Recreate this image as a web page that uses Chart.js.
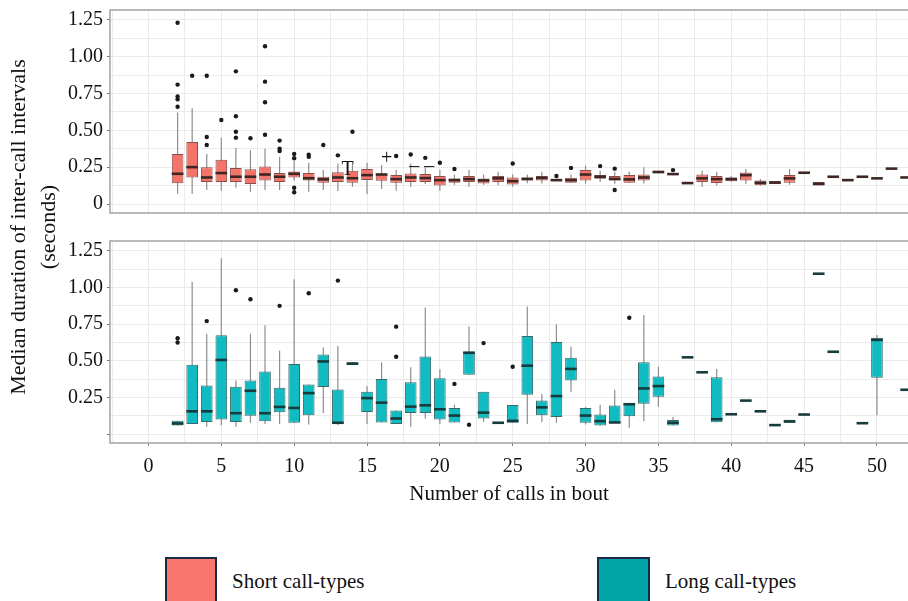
<!DOCTYPE html>
<html>
<head>
<meta charset="utf-8">
<script src="https://cdn.jsdelivr.net/npm/chart.js@4.4.1/dist/chart.umd.min.js"></script>
<style>
  body { margin: 0; width: 908px; height: 601px; overflow: hidden; background: #fff; position: relative; font-family: 'Liberation Serif', serif; color: #111; }
  canvas { position: absolute; left: 0; }
  #topPanel { top: 0; }
  #bottomPanel { top: 228px; }
  .ytitle { position: absolute; left: -167px; top: 197px; width: 400px; height: 60px; line-height: 30px; text-align: center; font-size: 22px; transform: rotate(-90deg); white-space: nowrap; }
  .key { position: absolute; top: 557px; height: 52px; border: 2px solid #1d2b4a; box-sizing: border-box; }
  .keytxt { position: absolute; top: 568px; font-size: 21px; line-height: 26px; white-space: nowrap; }
</style>
</head>
<body>
<canvas id="topPanel" width="908" height="222"></canvas>
<canvas id="bottomPanel" width="908" height="282"></canvas>
<div class="ytitle">Median duration of inter-call intervals<br>(seconds)</div>
<div class="key" style="left:165px;width:52px;background:#F8766D"></div>
<div class="keytxt" style="left:232px">Short call-types</div>
<div class="key" style="left:597px;width:53px;background:#00A3A6"></div>
<div class="keytxt" style="left:665px">Long call-types</div>
<script>
// ---- short call-types (top panel), number of calls 2..52 ----
const shortCalls = [2,3,4,5,6,7,8,9,10,11,12,13,14,15,16,17,18,19,20,21,22,23,24,25,26,27,28,29,30,31,32,33,34,35,36,37,38,39,40,41,42,43,44,45,46,47,48,49,50,51,52];
const shortLow  = [0.07,0.07,0.095,0.09,0.11,0.083,0.095,0.095,0.16,0.083,0.095,0.088,0.117,0.068,0.103,0.09,0.117,0.135,0.09,0.13,0.117,0.13,0.128,0.117,0.14,0.139,0.158,0.144,0.139,0.149,0.137,0.144,0.139,0.209,0.195,0.142,0.117,0.128,0.15,0.137,0.125,0.135,0.13,0.212,0.126,0.185,0.162,0.185,0.174,0.24,0.18];
const shortQ1   = [0.14,0.18,0.15,0.15,0.15,0.135,0.16,0.15,0.18,0.16,0.145,0.15,0.145,0.162,0.157,0.144,0.149,0.149,0.126,0.144,0.149,0.139,0.149,0.133,0.16,0.16,0.158,0.144,0.16,0.171,0.16,0.144,0.16,0.209,0.198,0.142,0.15,0.142,0.155,0.16,0.128,0.135,0.144,0.212,0.126,0.185,0.162,0.185,0.174,0.24,0.18];
const shortMed  = [0.205,0.25,0.18,0.21,0.185,0.185,0.2,0.185,0.205,0.175,0.167,0.18,0.175,0.196,0.2,0.169,0.18,0.176,0.162,0.162,0.169,0.16,0.174,0.155,0.17,0.177,0.162,0.162,0.2,0.185,0.17,0.167,0.18,0.217,0.203,0.142,0.174,0.169,0.169,0.196,0.144,0.146,0.174,0.212,0.137,0.185,0.162,0.185,0.174,0.24,0.18];
const shortQ3   = [0.34,0.42,0.25,0.30,0.245,0.235,0.255,0.21,0.22,0.21,0.185,0.215,0.225,0.237,0.207,0.196,0.207,0.203,0.19,0.173,0.19,0.173,0.19,0.18,0.18,0.19,0.165,0.178,0.23,0.197,0.19,0.197,0.2,0.225,0.207,0.142,0.2,0.19,0.18,0.214,0.16,0.155,0.197,0.212,0.149,0.185,0.162,0.185,0.174,0.24,0.18];
const shortHigh = [0.62,0.65,0.34,0.45,0.38,0.365,0.375,0.32,0.29,0.28,0.23,0.275,0.275,0.28,0.264,0.23,0.275,0.25,0.23,0.2,0.23,0.2,0.218,0.2,0.2,0.218,0.165,0.2,0.26,0.225,0.218,0.218,0.25,0.225,0.207,0.142,0.225,0.218,0.19,0.238,0.17,0.155,0.238,0.212,0.149,0.185,0.162,0.185,0.174,0.24,0.18];
const shortOutX = [2,2,2,2,2,3,4,4,4,5,6,6,6,6,7,8,8,8,8,9,9,9,10,10,10,10,11,11,12,13,14,17,18,19,20,21,25,28,29,31,32,32,36];
const shortOutY = [1.23,0.81,0.73,0.71,0.66,0.87,0.87,0.455,0.40,0.57,0.90,0.595,0.49,0.45,0.446,1.07,0.83,0.69,0.47,0.43,0.375,0.36,0.34,0.31,0.11,0.08,0.335,0.32,0.40,0.33,0.49,0.326,0.336,0.313,0.28,0.237,0.275,0.19,0.245,0.257,0.24,0.095,0.23];
// stray marks printed in the top panel
const markX = [13.67, 16.35, 18.75];
const markY = [0.234, 0.308, 0.256];
const markText = ['T', '+', '– –'];

// ---- long call-types (bottom panel) ----
const longCalls = [2,3,4,5,6,7,8,9,10,11,12,13,14,15,16,17,18,19,20,21,22,23,24,25,26,27,28,29,30,31,32,33,34,35,36,37,38,39,40,41,42,43,44,45,46,47,49,50,52];
const longLow  = [0.059,0.068,0.05,0.06,0.05,0.077,0.068,0.068,0.077,0.065,0.144,0.06,0.471,0.068,0.079,0.068,0.05,0.106,0.068,0.079,0.405,0.083,0.077,0.077,0.068,0.083,0.077,0.288,0.065,0.059,0.077,0.043,0.088,0.185,0.059,0.523,0.421,0.081,0.135,0.228,0.155,0.061,0.077,0.133,1.093,0.561,0.074,0.128,0.302];
const longQ1   = [0.059,0.068,0.083,0.10,0.083,0.124,0.088,0.149,0.077,0.128,0.32,0.068,0.471,0.151,0.079,0.068,0.144,0.144,0.099,0.079,0.405,0.106,0.077,0.077,0.268,0.128,0.117,0.365,0.077,0.059,0.077,0.122,0.207,0.255,0.059,0.523,0.421,0.081,0.135,0.228,0.155,0.061,0.077,0.133,1.093,0.561,0.074,0.383,0.302];
const longMed  = [0.072,0.155,0.155,0.505,0.142,0.295,0.142,0.185,0.178,0.279,0.495,0.077,0.48,0.245,0.214,0.106,0.187,0.196,0.169,0.126,0.554,0.146,0.077,0.09,0.466,0.182,0.259,0.444,0.126,0.088,0.079,0.203,0.311,0.327,0.077,0.523,0.421,0.101,0.135,0.228,0.155,0.061,0.086,0.133,1.093,0.561,0.074,0.642,0.302];
const longQ3   = [0.09,0.473,0.331,0.674,0.322,0.365,0.426,0.315,0.477,0.338,0.543,0.304,0.489,0.288,0.376,0.16,0.353,0.529,0.38,0.178,0.563,0.288,0.077,0.198,0.669,0.228,0.628,0.52,0.178,0.133,0.194,0.214,0.489,0.392,0.095,0.523,0.421,0.387,0.135,0.228,0.155,0.061,0.097,0.133,1.093,0.561,0.074,0.657,0.302];
const longHigh = [0.09,1.036,0.684,1.198,0.365,0.684,0.741,0.568,1.056,0.338,0.59,0.60,0.489,0.327,0.489,0.16,0.455,0.863,0.441,0.2,0.734,0.288,0.077,0.198,0.869,0.273,0.748,0.595,0.185,0.2,0.302,0.214,0.811,0.459,0.117,0.523,0.421,0.444,0.135,0.228,0.155,0.061,0.097,0.133,1.093,0.561,0.074,0.676,0.302];
const longOutX = [2,2,4,6,7,9,11,13,17,17,21,22,23,25,33];
const longOutY = [0.653,0.624,0.77,0.98,0.919,0.874,0.96,1.046,0.732,0.527,0.342,0.063,0.62,0.459,0.793];

const xTicks = [0,5,10,15,20,25,30,35,40,45,50];
const yTicks = [0,0.25,0.5,0.75,1,1.25];

const FONT = "'Liberation Serif', serif";
const GRID = '#ebebeb';

// whiskers under the boxes, medians on top, grey frame round the panel
function boxPlugin(p) {
  return {
    id: 'boxExtras',
    beforeDatasetsDraw(chart) {
      const {ctx, chartArea: a, scales: {x, y}} = chart;
      ctx.save();
      ctx.beginPath(); ctx.rect(a.left, a.top, a.right - a.left, a.bottom - a.top); ctx.clip();
      ctx.strokeStyle = '#8d8d8d';
      ctx.lineWidth = 1.2;
      p.n.forEach((n, i) => {
        if (p.high[i] === p.low[i]) return;
        const px = x.getPixelForValue(n);
        ctx.beginPath();
        ctx.moveTo(px, y.getPixelForValue(p.low[i]));
        ctx.lineTo(px, y.getPixelForValue(p.high[i]));
        ctx.stroke();
      });
      ctx.restore();
    },
    afterDatasetsDraw(chart) {
      const {ctx, chartArea: a, scales: {x, y}} = chart;
      const bars = chart.getDatasetMeta(0).data;
      ctx.save();
      ctx.beginPath(); ctx.rect(a.left, a.top, a.right - a.left, a.bottom - a.top); ctx.clip();
      ctx.strokeStyle = p.medColor;
      ctx.lineWidth = 2.6;
      p.n.forEach((n, i) => {
        const px = x.getPixelForValue(n);
        const w = bars[i].width;
        const py = y.getPixelForValue(p.med[i]);
        ctx.beginPath();
        ctx.moveTo(px - w / 2, py);
        ctx.lineTo(px + w / 2, py);
        ctx.stroke();
      });
      if (p.marks) {
        ctx.fillStyle = '#111';
        ctx.font = '20px ' + FONT;
        ctx.textAlign = 'center';
        ctx.textBaseline = 'middle';
        p.marks.x.forEach((mx, i) => ctx.fillText(p.marks.t[i], x.getPixelForValue(mx), y.getPixelForValue(p.marks.y[i])));
      }
      ctx.restore();
    },
    afterDraw(chart) {
      // frame runs off the right edge of the figure, so only three sides show
      const {ctx, chartArea: a} = chart;
      ctx.save();
      ctx.strokeStyle = '#a3a3a3';
      ctx.lineWidth = 1.5;
      ctx.beginPath();
      ctx.moveTo(a.right + 2, a.top);
      ctx.lineTo(a.left, a.top);
      ctx.lineTo(a.left, a.bottom);
      ctx.lineTo(a.right + 2, a.bottom);
      ctx.stroke();
      ctx.restore();
    }
  };
}

function makePanel(canvasId, p) {
  const isMajorY = v => Math.abs(v * 4 - Math.round(v * 4)) < 1e-6;
  const isMajorX = v => Math.abs(v / 5 - Math.round(v / 5)) < 1e-6;
  new Chart(document.getElementById(canvasId), {
    data: {
      datasets: [{
        type: 'bar',
        order: 1,
        data: p.n.map((n, i) => ({x: n, y: [p.q1[i], p.q3[i]]})),
        backgroundColor: p.fill,
        borderColor: p.edge,
        borderWidth: 1,
        borderSkipped: false,
        categoryPercentage: 1,
        barPercentage: 0.8
      }, {
        type: 'scatter',
        order: 0,
        data: p.outX.map((n, i) => ({x: n, y: p.outY[i]})),
        pointRadius: 2.2,
        pointBackgroundColor: '#1a1a1a',
        pointBorderWidth: 0
      }]
    },
    options: {
      responsive: false,
      animation: false,
      devicePixelRatio: 1,
      layout: {padding: p.padding, autoPadding: false},
      plugins: {legend: {display: false}, tooltip: {enabled: false}},
      scales: {
        x: {
          type: 'linear',
          offset: false,
          min: -2.64, max: 52.13,
          afterFit: s => { s.height = p.xHeight; s.paddingLeft = 0; s.paddingRight = 0; },
          border: {display: false},
          grid: {
            offset: false,
            color: GRID, lineWidth: 1,
            drawTicks: p.showX, tickLength: 3,
            tickColor: c => (c.tick && isMajorX(c.tick.value)) ? '#777' : 'rgba(0,0,0,0)'
          },
          ticks: {
            display: p.showX,
            stepSize: 2.5, includeBounds: false, autoSkip: false, maxRotation: 0,
            padding: 9,
            color: '#111',
            font: {family: FONT, size: 20},
            callback: v => xTicks.includes(v) ? String(v) : ''
          },
          title: {
            display: p.showX,
            text: 'Number of calls in bout',
            color: '#111',
            font: {family: FONT, size: 21},
            padding: {top: 0, bottom: 3}
          }
        },
        y: {
          type: 'linear',
          min: -0.061, max: 1.316,
          afterFit: s => { s.width = 110; s.paddingTop = 0; s.paddingBottom = 0; },
          border: {display: false},
          grid: {
            color: GRID, lineWidth: 1,
            tickLength: 3,
            tickColor: c => (c.tick && isMajorY(c.tick.value)) ? '#777' : 'rgba(0,0,0,0)'
          },
          ticks: {
            stepSize: 0.125, includeBounds: false, autoSkip: false,
            padding: 4,
            color: '#111',
            font: {family: FONT, size: 20},
            callback: v => {
              const hit = yTicks.find(t => Math.abs(t - v) < 1e-6);
              if (hit === undefined) return '';
              if (hit === 0) return p.zeroLabel;
              return hit.toFixed(2);
            }
          }
        }
      }
    },
    plugins: [boxPlugin(p)]
  });
}

makePanel('topPanel', {
  n: shortCalls, low: shortLow, q1: shortQ1, med: shortMed, q3: shortQ3, high: shortHigh,
  outX: shortOutX, outY: shortOutY,
  marks: {x: markX, y: markY, t: markText},
  fill: '#F4746A', edge: '#8a4e49', medColor: '#3d2624',
  padding: {top: 10, bottom: 9, left: 0, right: 0},
  xHeight: 0, showX: false, zeroLabel: '0'
});

makePanel('bottomPanel', {
  n: longCalls, low: longLow, q1: longQ1, med: longMed, q3: longQ3, high: longHigh,
  outX: longOutX, outY: longOutY,
  marks: null,
  fill: '#10BCC1', edge: '#36696a', medColor: '#163c3d',
  padding: {top: 13, bottom: 0, left: 0, right: 0},
  xHeight: 67, showX: true, zeroLabel: ''
});
</script>
</body>
</html>
